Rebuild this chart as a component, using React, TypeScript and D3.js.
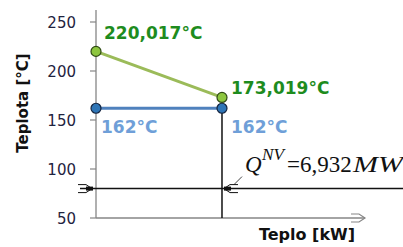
import React from "react";
import * as d3 from "d3";

const yTicks = [50, 100, 150, 200, 250];
const heatMW = [0, 6.932];
const hotTemps = [220.017, 173.019];
const coldTemps = [162, 162];
const hotLabels = ["220,017°C", "173,019°C"];
const coldLabels = ["162°C", "162°C"];
const pinchLevel = 80;
const xMax = 14.8;

export default function App() {
  const W = 403, H = 247;
  const x = d3.scaleLinear().domain([0, xMax]).range([96, 365]);
  const y = d3.scaleLinear().domain([50, 250]).range([218, 22]);
  const line = d3.line<[number, number]>().x(d => x(d[0])).y(d => y(d[1]));
  const hot = heatMW.map((q, i) => [q, hotTemps[i]] as [number, number]);
  const cold = heatMW.map((q, i) => [q, coldTemps[i]] as [number, number]);
  const xQ = x(heatMW[1]);
  const yP = y(pinchLevel);
  const axisCol = "#868686";
  const serif = "'Liberation Serif', 'Times New Roman', serif";
  return (
    <svg width={W} height={H} style={{ position: "absolute", left: 0, top: 0, background: "#fff" }}
      fontFamily="'DejaVu Sans', Verdana, sans-serif">
      {/* y axis */}
      <line x1={x(0)} x2={x(0)} y1={10} y2={y(50)} stroke={axisCol} strokeWidth={1.3} />
      {yTicks.map(t => (
        <g key={t}>
          <line x1={x(0) - 6} x2={x(0)} y1={y(t)} y2={y(t)} stroke={axisCol} strokeWidth={1.2} />
          <text x={76} y={y(t) + 5.5} textAnchor="end" fontSize={15} fill="#1f2340">{t}</text>
        </g>
      ))}
      {/* x axis */}
      <line x1={x(0)} x2={x(xMax)} y1={y(50)} y2={y(50)} stroke={axisCol} strokeWidth={1.3} />
      <path d={`M${x(xMax) - 14},${y(50) - 4} L${x(xMax) - 6},${y(50) - 4} L${x(xMax)},${y(50)} L${x(xMax) - 6},${y(50) + 4} L${x(xMax) - 14},${y(50) + 4}`}
        fill="none" stroke={axisCol} strokeWidth={1.2} />
      <text x={307} y={240} textAnchor="middle" fontSize={16} fontWeight="bold" fill="#111">Teplo [kW]</text>
      <text transform={`translate(28,103) rotate(-90)`} textAnchor="middle" fontSize={15} fontWeight="bold" fill="#111">Teplota [°C]</text>
      {/* pinch horizontal line */}
      <line x1={80} x2={W} y1={yP} y2={yP} stroke="#111" strokeWidth={1.5} />
      <rect x={86} y={yP - 2} width={7} height={4} fill="#111" />
      <path d={`M78,${yP - 4} L86,${yP - 4} L92,${yP} L86,${yP + 4} L78,${yP + 4}`} fill="none" stroke="#111" strokeWidth={1} />
      <rect x={xQ + 2} y={yP - 2} width={7} height={4} fill="#111" />
      <path d={`M${xQ + 16},${yP - 4} L${xQ + 8},${yP - 4} L${xQ + 2},${yP} L${xQ + 8},${yP + 4} L${xQ + 16},${yP + 4}`} fill="none" stroke="#111" strokeWidth={1} />
      {/* vertical line */}
      <line x1={xQ} x2={xQ} y1={y(coldTemps[1])} y2={y(50)} stroke="#111" strokeWidth={1.5} />
      {/* series */}
      <path d={line(hot) || ""} fill="none" stroke="#9bbb59" strokeWidth={3} />
      <path d={line(cold) || ""} fill="none" stroke="#4f81bd" strokeWidth={3} />
      {hot.map((d, i) => (
        <circle key={"h" + i} cx={x(d[0])} cy={y(d[1])} r={5} fill="#8dc63f" stroke="#2f4a14" strokeWidth={1.2} />
      ))}
      {cold.map((d, i) => (
        <circle key={"c" + i} cx={x(d[0])} cy={y(d[1])} r={5} fill="#2e75b6" stroke="#14243f" strokeWidth={1.2} />
      ))}
      {hot.map((d, i) => (
        <text key={"hl" + i} x={x(d[0]) + (i === 0 ? 8 : 9)} y={i === 0 ? 39 : 94} fontSize={17} fontWeight="bold" fill="#1e8c1e">{hotLabels[i]}</text>
      ))}
      {cold.map((d, i) => (
        <text key={"cl" + i} x={x(d[0]) + (i === 0 ? 5 : 9)} y={133} fontSize={17} fontWeight="bold" fill="#6f9fd8">{coldLabels[i]}</text>
      ))}
      {/* Q annotation */}
      <path d={`M${xQ + 12},${yP - 4} L${xQ + 20},${yP - 12}`} stroke="#111" strokeWidth={0.8} />
      <text y={172} fontFamily={serif} fill="#111">
        <tspan x={245} fontStyle="italic" fontSize={23}>Q</tspan>
        <tspan x={262} y={160} fontStyle="italic" fontSize={16} textLength={22} lengthAdjust="spacingAndGlyphs">NV</tspan>
        <tspan x={287} y={172} fontSize={23}>=</tspan>
        <tspan x={300} fontSize={23}>6,932</tspan>
        <tspan x={353} fontStyle="italic" fontSize={23} textLength={50} lengthAdjust="spacingAndGlyphs">MW</tspan>
      </text>
    </svg>
  );
}
